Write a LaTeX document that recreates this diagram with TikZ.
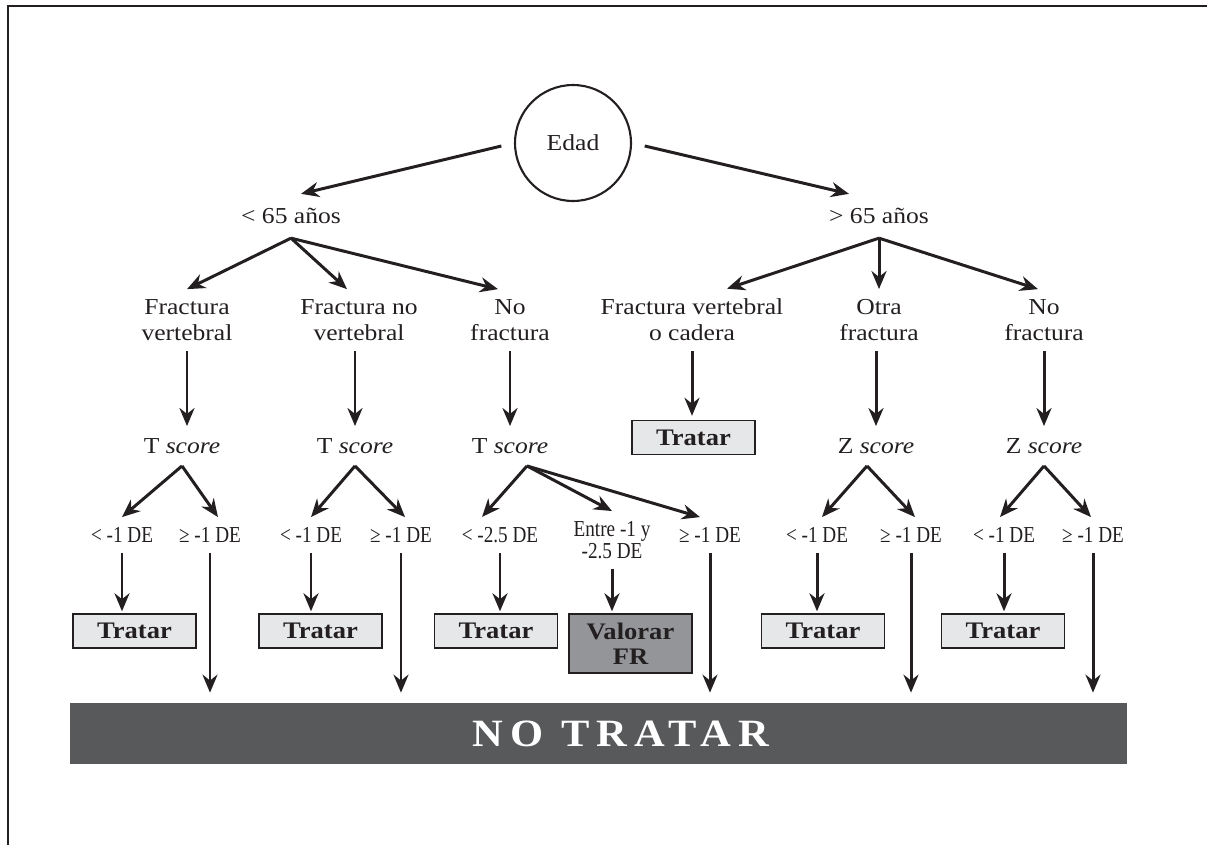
\documentclass[tikz,border=0pt]{standalone}
\usepackage{fontspec}
\setmainfont{Liberation Serif}[FakeStretch=1.12]
\newfontfamily\condfont{Liberation Serif}[FakeStretch=0.84]
\newfontfamily\barfont{Liberation Serif}[FakeStretch=1.1,LetterSpace=18]
\usepackage{tikz}
\usetikzlibrary{arrows.meta}
\definecolor{ink}{HTML}{231F20}
\definecolor{boxgray}{HTML}{E6E7E8}
\definecolor{valgray}{HTML}{939598}
\definecolor{bargray}{HTML}{58595B}

\begin{document}
\begin{tikzpicture}[x=0.02cm,y=-0.02cm,
	txt/.style={align=center,text=ink,inner xsep=0.1cm,inner ysep=0.2cm,font=\fontsize{13}{14.7}\selectfont},
	cut/.style={align=center,text=ink,inner xsep=0.05cm,inner ysep=0.2cm,font=\condfont\fontsize{13}{10.5}\selectfont},
	tratar/.style={draw=ink,line width=0.8pt,fill=boxgray,minimum width=2.46cm,minimum height=0.68cm,inner sep=0pt,align=center,text=ink,font=\bfseries\fontsize{13.5}{14}\selectfont},
	arr/.style={-{Stealth[length=0.36cm,width=0.3cm]},line width=1.7pt,draw=ink}]
				\useasboundingbox (0,0) rectangle (1207,845);
				\draw[ink,line width=1.1pt] (8,845) -- (8,6) -- (1207,6);

				\node[circle,draw=ink,line width=1.2pt,minimum size=2.32cm,text=ink,font=\fontsize{13}{14}\selectfont] (edad) at (573,143) {Edad};
				\node[txt,inner ysep=0.28cm] (menor) at (291,216) {< 65 años};
				\draw[arr,shorten <=0.26cm] (edad.west) -- ([xshift=0.2cm]menor.north);
				\node[txt,inner ysep=0.28cm] (mayor) at (879,216) {> 65 años};
				\draw[arr,shorten <=0.26cm] (edad.east) -- ([xshift=-0.6cm]mayor.north);

				\node[txt] (fv) at (187,320) {Fractura\\vertebral};
				\draw[arr] (menor.south) -- (fv.north);
				\node[txt] (fnv) at (359,320) {Fractura no\\vertebral};
				\draw[arr] (menor.south) -- ([xshift=-0.24cm]fnv.north);
				\node[txt] (nf1) at (510,320) {No\\fractura};
				\draw[arr] (menor.south) -- ([xshift=-0.24cm]nf1.north);
				\node[txt] (fvc) at (692,320) {Fractura vertebral\\o cadera};
				\draw[arr] (mayor.south) -- ([xshift=0.7cm]fvc.north);
				\node[txt] (of) at (879,320) {Otra\\fractura};
				\draw[arr] (mayor.south) -- (of.north);
				\node[txt] (nf2) at (1044,320) {No\\fractura};
				\draw[arr] (mayor.south) -- ([xshift=-0.12cm]nf2.north);

				\node[txt,inner ysep=0.24cm] (t1) at (182,446) {T \textit{score}};
				\draw[arr] (fv.south) -- (fv.south |- t1.north);
				\node[txt,inner ysep=0.24cm] (t2) at (355,446) {T \textit{score}};
				\draw[arr] (t2.north |- fnv.south) -- (t2.north);
				\node[txt,inner ysep=0.24cm] (t3) at (510,446) {T \textit{score}};
				\draw[arr] (nf1.south) -- (t3.north);
				\node[tratar] (tr0) at (693.5,437.5) {Tratar};
				\draw[arr,shorten >=0.08cm] (fvc.south) -- (fvc.south |- tr0.north);
				\node[txt,inner ysep=0.24cm] (z1) at (876,446) {Z \textit{score}};
				\draw[arr] (z1.north |- of.south) -- (z1.north);
				\node[txt,inner ysep=0.24cm] (z2) at (1044,446) {Z \textit{score}};
				\draw[arr] (nf2.south) -- (z2.north);

				\node[cut] (l1) at (122,535) {< -1 DE};
				\draw[arr] (t1.south) -- (l1.north);
				\node[cut] (g1) at (210,535) {≥ -1 DE};
				\draw[arr] (t1.south) -- ([xshift=0.16cm]g1.north);
				\node[cut] (l2) at (311,535) {< -1 DE};
				\draw[arr] (t2.south) -- (l2.north);
				\node[cut] (g2) at (401,535) {≥ -1 DE};
				\draw[arr] (t2.south) -- ([xshift=0.08cm]g2.north);
				\node[cut] (l3) at (500,535) {< -2.5 DE};
				\draw[arr] ([xshift=0.34cm]t3.south) -- ([xshift=-0.36cm]l3.north);
				\node[cut] (e3) at (612,540) {Entre -1 y\\-2.5 DE};
				\draw[arr] ([xshift=0.34cm]t3.south) -- (e3.north);
				\node[cut] (g3) at (710,535) {≥ -1 DE};
				\draw[arr] ([xshift=0.34cm]t3.south) -- ([xshift=-0.2cm]g3.north);
				\node[cut] (l4) at (817,535) {< -1 DE};
				\draw[arr] ([xshift=-0.18cm]z1.south) -- ([xshift=0.1cm]l4.north);
				\node[cut] (g4) at (911,535) {≥ -1 DE};
				\draw[arr] ([xshift=-0.18cm]z1.south) -- ([xshift=0.08cm]g4.north);
				\node[cut] (l5) at (1004,535) {< -1 DE};
				\draw[arr] (z2.south) -- ([xshift=-0.08cm]l5.north);
				\node[cut] (g5) at (1093,535) {≥ -1 DE};
				\draw[arr] (z2.south) -- ([xshift=-0.04cm]g5.north);

				\node[tratar] (tr1) at (134.5,631) {Tratar};
				\draw[arr,shorten >=0.04cm] (l1.south) -- (l1.south |- tr1.north);
				\node[tratar] (tr2) at (320.5,631) {Tratar};
				\draw[arr,shorten >=0.04cm] (l2.south) -- (l2.south |- tr2.north);
				\node[tratar] (tr3) at (496,631) {Tratar};
				\draw[arr,shorten >=0.04cm] (l3.south) -- (l3.south |- tr3.north);
				\node[tratar,fill=valgray,minimum height=1.18cm] (val) at (630.5,643.5) {Valorar\\FR};
				\draw[arr,shorten >=0.04cm] (e3.south) -- (e3.south |- val.north);
				\node[tratar] (tr4) at (823,631) {Tratar};
				\draw[arr,shorten >=0.04cm] (l4.south) -- (l4.south |- tr4.north);
				\node[tratar] (tr5) at (1003,631) {Tratar};
				\draw[arr,shorten >=0.04cm] (l5.south) -- (l5.south |- tr5.north);

				\node[fill=bargray,minimum width=21.14cm,minimum height=1.22cm,inner sep=0pt,text=white,font=\barfont\bfseries\fontsize{22}{22}\selectfont] (notratar) at (598.5,733.5) {\hspace*{0.9cm}NO TRATAR};
				\draw[arr,shorten >=0.2cm] (g1.south) -- (g1.south |- notratar.north);
				\draw[arr,shorten >=0.2cm] (g2.south) -- (g2.south |- notratar.north);
				\draw[arr,shorten >=0.2cm] (g3.south) -- (g3.south |- notratar.north);
				\draw[arr,shorten >=0.2cm] (g4.south) -- (g4.south |- notratar.north);
				\draw[arr,shorten >=0.2cm] (g5.south) -- (g5.south |- notratar.north);
			\end{tikzpicture}
\end{document}
